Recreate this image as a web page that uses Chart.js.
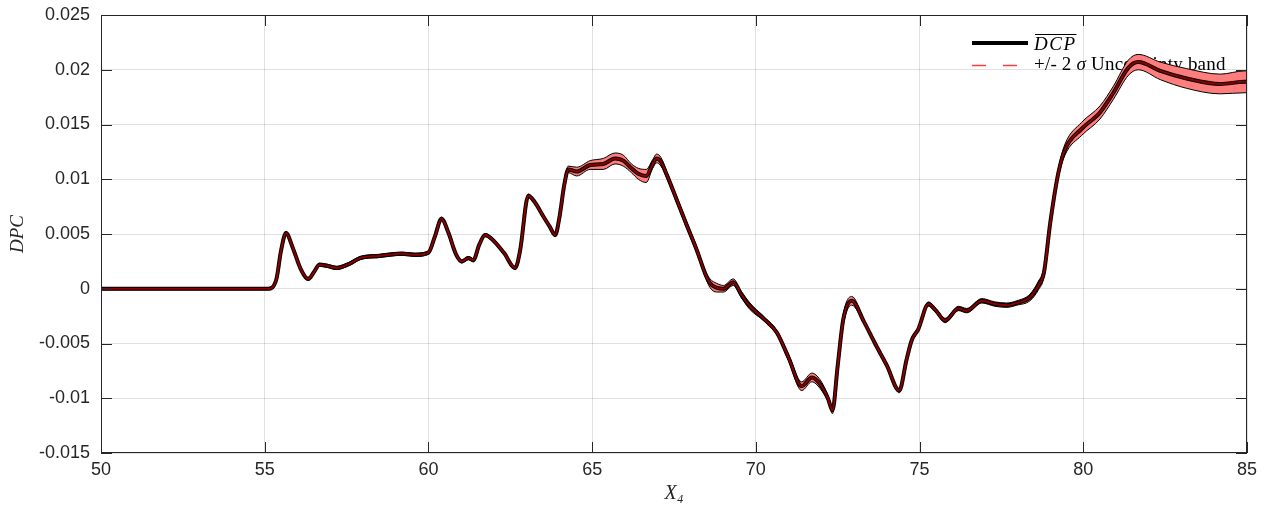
<!DOCTYPE html>
<html>
<head>
<meta charset="utf-8">
<script src="https://cdn.jsdelivr.net/npm/chart.js@4"></script>
<style>
  html, body { margin: 0; padding: 0; background: #fff; }
  #wrap { width: 1268px; height: 506px; }
</style>
</head>
<body>
<div id="wrap"><canvas id="myChart" width="1268" height="506"></canvas></div>
<script>
// values
const xs = [50, 52, 54, 55.1, 55.35, 55.5, 55.65, 55.85, 56.1, 56.33, 56.5, 56.67, 56.9, 57.2, 57.6, 57.91,
  58.5, 59.2, 59.6, 60.0, 60.2, 60.4, 60.6, 60.85, 61.02, 61.22, 61.37, 61.55, 61.73, 61.95, 62.3, 62.65,
  62.8, 63.05, 63.25, 63.51, 63.7, 63.87, 64.0, 64.15, 64.27, 64.53, 64.94, 65.34, 65.7, 65.95, 66.2, 66.41,
  66.65, 66.85, 66.97, 67.1, 67.28, 67.6, 67.89, 68.2, 68.45, 68.6, 68.8, 69.01, 69.31, 69.55, 69.82, 70.23,
  70.64, 71.0, 71.4, 71.71, 71.96, 72.2, 72.34, 72.5, 72.67, 72.93, 73.3, 73.64, 74.0, 74.38, 74.6, 74.76,
  74.96, 75.27, 75.5, 75.78, 76.19, 76.44, 76.9, 77.3, 77.66, 77.97, 78.37, 78.63, 78.8, 78.99, 79.24, 79.44,
  79.95, 80.51, 80.92, 81.38, 81.68, 82.35, 83.16, 84.18, 84.94, 85];

const dcp = [0, 0, 0, 0, 0.0008, 0.0035, 0.0051, 0.0038, 0.0018, 0.0009, 0.0015, 0.0022, 0.0021, 0.0019, 0.0023, 0.0028,
  0.0030, 0.0032, 0.0031, 0.0033, 0.0048, 0.0064, 0.0052, 0.0031, 0.0025, 0.0028, 0.0026, 0.0040, 0.0049, 0.0045, 0.0033, 0.0019,
  0.0035, 0.0085, 0.0079, 0.0066, 0.0057, 0.0049, 0.0065, 0.0095, 0.0109, 0.0107, 0.0113, 0.0114, 0.0119, 0.0117, 0.0110, 0.0105,
  0.0103, 0.0114, 0.0119, 0.0116, 0.0104, 0.0080, 0.0058, 0.0035, 0.0014, 0.0005, 0.0001, 0.0, 0.0006, -0.0005, -0.0016, -0.0027,
  -0.0040, -0.0063, -0.0089, -0.0081, -0.0087, -0.0100, -0.0111, -0.0070, -0.0028, -0.0011, -0.0030, -0.0050, -0.0070, -0.0093, -0.0065, -0.0047,
  -0.0037, -0.0014, -0.0020, -0.0029, -0.0018, -0.0020, -0.0011, -0.0014, -0.0015, -0.0013, -0.0008, 0.0003, 0.0015, 0.0060, 0.0106, 0.0127,
  0.0146, 0.0161, 0.0179, 0.0202, 0.0207, 0.0199, 0.0192, 0.0187, 0.0189, 0.0189];

// half width of the +/- 2 sigma band
const band = [0.0001, 0.0001, 0.0001, 0.0001, 0.00012, 0.00015, 0.00015, 0.00015, 0.00015, 0.00015, 0.00015, 0.00015, 0.00015, 0.00015, 0.00015, 0.00015,
  0.00015, 0.00015, 0.00015, 0.00015, 0.00015, 0.00015, 0.00015, 0.00015, 0.00015, 0.00015, 0.00015, 0.00015, 0.00015, 0.00015, 0.00015, 0.00015,
  0.00015, 0.00015, 0.00015, 0.00015, 0.00015, 0.00015, 0.0002, 0.0003, 0.0003, 0.0004, 0.0004, 0.0005, 0.0005, 0.0005, 0.0004, 0.0005,
  0.0006, 0.0004, 0.0004, 0.0004, 0.0003, 0.0003, 0.0003, 0.0003, 0.0003, 0.0004, 0.0004, 0.0003, 0.0003, 0.0003, 0.0003, 0.0002,
  0.0002, 0.0003, 0.0004, 0.0004, 0.0004, 0.0003, 0.0003, 0.0004, 0.0005, 0.0004, 0.0002, 0.0002, 0.0002, 0.0002, 0.0002, 0.0002,
  0.0002, 0.0002, 0.0002, 0.0002, 0.0002, 0.0002, 0.0002, 0.0002, 0.0002, 0.0002, 0.0003, 0.0004, 0.0004, 0.0004, 0.0004, 0.0005,
  0.0006, 0.0006, 0.0006, 0.0007, 0.0007, 0.0008, 0.0009, 0.0009, 0.001, 0.001];

const xTicks = [50, 55, 60, 65, 70, 75, 80, 85];
const yTicks = [-0.015, -0.01, -0.005, 0, 0.005, 0.01, 0.015, 0.02, 0.025];

const axisCol = '#262626';
const mean = xs.map((x, i) => ({x: x, y: dcp[i]}));
const upper = xs.map((x, i) => ({x: x, y: dcp[i] + band[i]}));
const lower = xs.map((x, i) => ({x: x, y: dcp[i] - band[i]}));

// box with inward ticks on all four sides, like matlab
const frame = {
  id: 'frame',
  afterDatasetsDraw(chart) {
    const {ctx, chartArea: a, scales: {x, y}} = chart;
    ctx.save();
    ctx.strokeStyle = axisCol;
    ctx.lineWidth = 1;
    ctx.strokeRect(a.left + 0.5, a.top + 0.5, a.right - a.left - 1, a.bottom - a.top - 1);
    ctx.beginPath();
    xTicks.forEach(v => {
      const p = Math.round(x.getPixelForValue(v)) + 0.5;
      ctx.moveTo(p, a.bottom); ctx.lineTo(p, a.bottom - 11);
      ctx.moveTo(p, a.top); ctx.lineTo(p, a.top + 11);
    });
    yTicks.forEach(v => {
      const p = Math.round(y.getPixelForValue(v)) + 0.5;
      ctx.moveTo(a.left, p); ctx.lineTo(a.left + 11, p);
      ctx.moveTo(a.right, p); ctx.lineTo(a.right - 11, p);
    });
    ctx.stroke();
    ctx.restore();
  }
};

// legend drawn under the curves, the way it shows in the picture
const legendPlug = {
  id: 'legendPlug',
  beforeDatasetsDraw(chart) {
    const ctx = chart.ctx;
    const a = chart.chartArea;
    const lx = a.right - 275, tx = lx + 62;
    const y1 = a.top + 28, y2 = a.top + 50;
    ctx.save();
    // text first
    ctx.fillStyle = '#000';
    ctx.textBaseline = 'middle';
    ctx.font = 'italic 19px "Liberation Serif"';
    ctx.letterSpacing = '1.5px';
    ctx.fillText('DCP', tx, y1 + 2);
    const w = ctx.measureText('DCP').width;
    ctx.letterSpacing = '0.2px';
    ctx.font = '19px "Liberation Serif"';
    let cx = tx;
    ctx.fillText('+/- 2 ', cx, y2); cx += ctx.measureText('+/- 2 ').width;
    ctx.font = 'italic 19px "Liberation Serif"';
    ctx.fillText('σ', cx, y2); cx += ctx.measureText('σ').width;
    ctx.font = '19px "Liberation Serif"';
    ctx.fillText(' Uncertainty band', cx, y2);
    ctx.restore();

    // black mean line sample and overline
    ctx.save();
    ctx.strokeStyle = '#000';
    ctx.lineWidth = 4;
    ctx.beginPath(); ctx.moveTo(lx, y1); ctx.lineTo(lx + 56, y1); ctx.stroke();
    ctx.lineWidth = 1;
    ctx.beginPath(); ctx.moveTo(tx + 1, y1 - 8.5); ctx.lineTo(tx + w, y1 - 8.5); ctx.stroke();
    ctx.restore();

    // red dashed band sample
    ctx.save();
    ctx.strokeStyle = 'rgb(255,60,60)';
    ctx.lineWidth = 1.3;
    ctx.setLineDash([14, 17]);
    ctx.beginPath(); ctx.moveTo(lx, y2 + 0.5); ctx.lineTo(lx + 48, y2 + 0.5); ctx.stroke();
    ctx.restore();
  }
};

new Chart(document.getElementById('myChart'), {
  type: 'line',
  data: {
    datasets: [{
      label: 'upper',
      data: upper,
      borderColor: '#000',
      borderWidth: 1,
      backgroundColor: 'rgb(255,125,125)',
      fill: '+1',
      order: 3
    }, {
      label: 'lower',
      data: lower,
      borderColor: '#000',
      borderWidth: 1,
      fill: false,
      order: 2
    }, {
      label: 'DCP',
      data: mean,
      borderColor: '#000',
      borderWidth: 4,
      fill: false,
      order: 1
    }, {
      label: 'DCP core',
      data: mean,
      borderColor: '#8a0000',
      borderWidth: 2,
      fill: false,
      order: 0
    }]
  },
  options: {
    responsive: false,
    animation: false,
    layout: {padding: {left: 0, right: 21, top: 15, bottom: 0}},
    elements: {
      point: {radius: 0},
      line: {cubicInterpolationMode: 'monotone'}
    },
    plugins: {
      legend: {display: false},
      tooltip: {enabled: false}
    },
    scales: {
      x: {
        type: 'linear',
        min: 50,
        max: 85,
        afterBuildTicks: s => { s.ticks = xTicks.map(v => ({value: v})); },
        afterFit: s => { s.height = 53; s.paddingLeft = 0; s.paddingRight = 0; },
        grid: {color: 'rgba(38,38,38,0.14)', drawTicks: false},
        border: {display: false},
        ticks: {
          color: axisCol,
          padding: 6,
          maxRotation: 0,
          font: {family: '"Liberation Sans"', size: 18},
          callback: v => String(v)
        },
        title: {
          display: true,
          text: 'X₄',
          color: axisCol,
          padding: {top: 0, bottom: 0},
          font: {family: '"Liberation Serif", "DejaVu Serif"', style: 'italic', size: 20}
        }
      },
      y: {
        type: 'linear',
        min: -0.015,
        max: 0.025,
        afterBuildTicks: s => { s.ticks = yTicks.map(v => ({value: v})); },
        afterFit: s => { s.width = 101; s.paddingTop = 0; s.paddingBottom = 0; },
        grid: {color: 'rgba(38,38,38,0.14)', drawTicks: false},
        border: {display: false},
        ticks: {
          color: axisCol,
          padding: 11,
          font: {family: '"Liberation Sans"', size: 18},
          callback: v => String(Number(v.toFixed(3)))
        },
        title: {
          display: true,
          text: 'DPC',
          color: axisCol,
          padding: {top: 7, bottom: 0},
          font: {family: '"Liberation Serif"', style: 'italic', size: 19}
        }
      }
    }
  },
  plugins: [frame, legendPlug]
});
</script>
</body>
</html>
